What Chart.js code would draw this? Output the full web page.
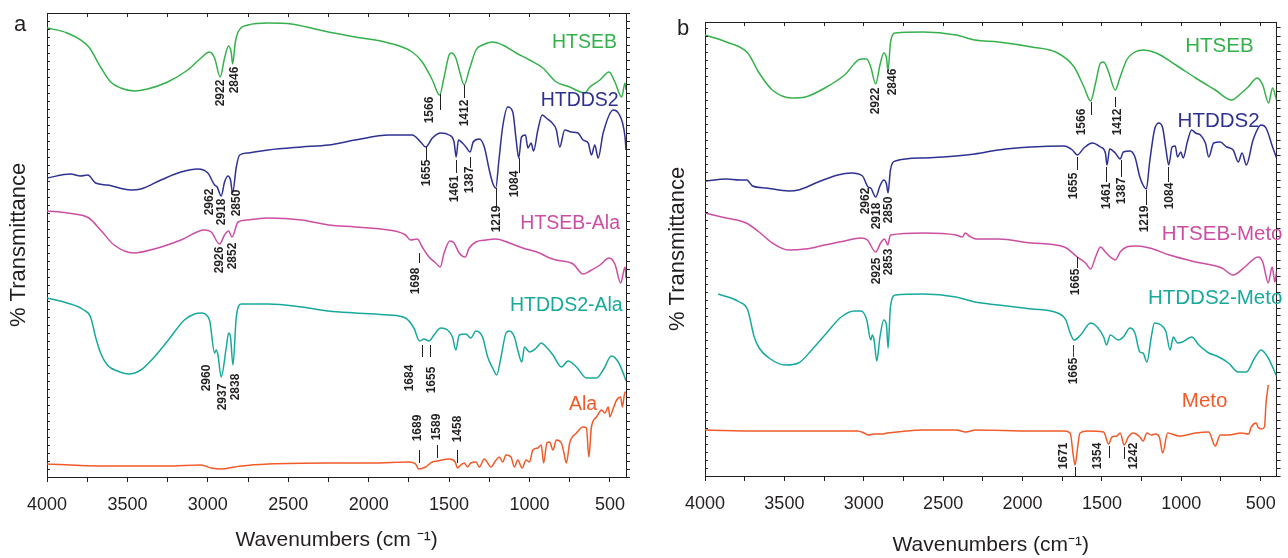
<!DOCTYPE html>
<html>
<head>
<meta charset="utf-8">
<script src="https://cdn.jsdelivr.net/npm/chart.js@4.4.1/dist/chart.umd.min.js"></script>
<style>
  body { margin: 0; background: #fff; width: 1288px; height: 558px; overflow: hidden; position: relative; }
  .panel { position: absolute; top: 0; width: 644px; height: 558px; }
  #wrapA { left: 0; }
  #wrapB { left: 644px; }
  .tag { position: absolute; font: 22px 'Liberation Sans', Arial, sans-serif; line-height: 22px; color: #231f20; }
</style>
</head>
<body>
<div class="panel" id="wrapA"><canvas id="panelA" width="644" height="558"></canvas></div>
<div class="panel" id="wrapB"><canvas id="panelB" width="644" height="558"></canvas></div>
<div class="tag" style="left:14px;top:13px">a</div>
<div class="tag" style="left:677px;top:17px">b</div>
<script>
const FONT = "'Liberation Sans', Arial, sans-serif";
const INK = '#231f20';

// x ticks every 250, labels only on the 500s
const xTicks = [4000, 3750, 3500, 3250, 3000, 2750, 2500, 2250, 2000, 1750, 1500, 1250, 1000, 750, 500];

// ---- panel a : [wavenumber, transmittance (arb. units, offset)] ----
const aHTSEB = [[4000,449],[3875,444],[3740,430],[3667,410],[3604,395],[3542,389],[3459,386],[3375,388],[3250,395],[3125,407],[3042,419],[2990,425],[2958,419],[2923,400],[2896,419],[2871,431],[2854,424],[2846,413],[2829,435],[2812,445],[2750,452],[2625,454],[2479,453],[2333,448],[2250,445],[2083,440],[1875,434],[1729,425],[1667,415],[1604,397],[1559,382],[1531,400],[1500,422],[1485,424],[1458,419],[1437,407],[1406,392],[1375,407],[1333,427],[1292,432],[1229,435],[1167,432],[1083,424],[1000,417],[917,409],[833,395],[750,390],[656,384],[625,390],[562,397],[505,405],[469,395],[427,380],[406,394],[400,387]];
const aHTDDS2 = [[4000,299],[3854,303],[3792,301],[3746,302],[3698,294],[3625,292],[3479,287],[3417,288],[3292,297],[3167,305],[3062,308],[3000,304],[2958,292],[2942,290],[2917,281],[2896,295],[2875,301],[2859,297],[2846,284],[2823,310],[2802,322],[2750,324],[2625,327],[2417,330],[2250,332],[2083,337],[1875,342],[1729,342],[1677,335],[1645,330],[1604,339],[1552,344],[1500,342],[1469,335],[1456,320],[1442,337],[1417,334],[1395,330],[1369,325],[1350,335],[1312,338],[1281,330],[1250,307],[1229,294],[1210,289],[1190,317],[1167,350],[1135,370],[1104,365],[1083,337],[1067,319],[1050,340],[1025,342],[1010,329],[990,334],[975,326],[948,347],[921,362],[896,359],[865,355],[833,347],[812,330],[781,347],[740,345],[698,344],[667,337],[635,334],[615,322],[594,332],[573,319],[542,344],[479,367],[448,364],[406,340],[400,327]];
const aHTSEBAla = [[4000,266],[3875,264],[3740,259],[3667,247],[3583,232],[3459,224],[3333,228],[3167,237],[3021,247],[2979,245],[2927,233],[2896,242],[2871,246],[2850,240],[2812,255],[2750,257],[2625,259],[2417,257],[2250,252],[2083,250],[1875,247],[1771,242],[1740,237],[1698,238],[1667,230],[1625,220],[1583,214],[1555,210],[1531,224],[1495,236],[1469,234],[1437,224],[1400,220],[1375,229],[1333,235],[1271,237],[1208,238],[1125,234],[1042,229],[938,224],[875,219],[833,217],[729,213],[667,203],[625,206],[562,212],[505,219],[469,213],[433,194],[406,210],[400,199]];
const aHTDDS2Ala = [[4000,179],[3875,174],[3771,167],[3729,160],[3698,140],[3667,124],[3625,112],[3563,106],[3490,103],[3417,107],[3333,120],[3250,136],[3146,157],[3083,163],[3042,164],[2990,157],[2958,124],[2948,127],[2937,122],[2917,100],[2885,130],[2871,144],[2859,140],[2844,112],[2823,160],[2792,173],[2625,173],[2417,170],[2250,166],[2083,164],[1875,162],[1771,159],[1719,149],[1683,136],[1656,138],[1625,136],[1594,142],[1552,149],[1510,147],[1479,140],[1458,127],[1437,142],[1396,143],[1365,139],[1333,146],[1292,140],[1260,120],[1229,109],[1204,102],[1177,120],[1146,144],[1125,146],[1094,140],[1073,127],[1048,115],[1031,130],[1000,125],[958,129],[927,134],[896,130],[854,122],[802,110],[760,116],[708,110],[646,99],[583,99],[542,107],[490,121],[448,115],[406,99],[400,96]];
const aAla = [[4000,13],[3667,11],[3250,11],[3042,12],[2979,9],[2917,8],[2833,10],[2792,11],[2625,13],[2250,14],[1979,14],[1750,15],[1708,13],[1689,8],[1646,10],[1604,15],[1573,16],[1500,18],[1462,15],[1448,9],[1427,12],[1406,14],[1385,10],[1365,14],[1333,15],[1312,10],[1281,18],[1260,14],[1240,10],[1212,16],[1188,20],[1167,15],[1146,22],[1115,20],[1094,10],[1073,17],[1046,9],[1021,17],[1000,15],[979,27],[948,29],[927,32],[912,14],[892,34],[875,35],[854,27],[833,37],[802,34],[787,25],[771,14],[750,34],[708,44],[667,50],[646,49],[631,20],[615,50],[583,60],[552,67],[531,64],[510,70],[500,60],[483,67],[458,77],[433,80],[423,70],[406,85],[400,84]];

// ---- panel b ----
const bHTSEB = [[4000,441],[3865,434],[3731,423],[3659,403],[3576,386],[3452,378],[3369,379],[3245,388],[3121,401],[3018,417],[2981,417],[2956,409],[2925,392],[2898,411],[2874,423],[2857,418],[2847,405],[2832,433],[2801,443],[2625,444],[2419,441],[2300,436],[2151,434],[1944,429],[1779,423],[1675,409],[1613,389],[1571,375],[1540,393],[1509,413],[1489,414],[1458,404],[1416,386],[1385,399],[1344,416],[1303,423],[1241,426],[1158,423],[1034,411],[910,398],[786,386],[683,376],[621,383],[579,389],[522,398],[487,391],[450,373],[425,388],[400,376]];
const bHTDDS2 = [[4000,295],[3865,297],[3783,296],[3737,296],[3700,290],[3617,288],[3473,285],[3411,286],[3287,294],[3163,301],[3080,303],[3008,300],[2973,289],[2956,288],[2925,279],[2898,290],[2874,296],[2857,292],[2847,283],[2832,306],[2801,315],[2625,318],[2419,320],[2300,322],[2151,326],[1944,329],[1737,330],[1686,326],[1655,321],[1613,328],[1561,333],[1509,329],[1478,323],[1468,311],[1451,327],[1416,323],[1385,317],[1365,324],[1323,325],[1292,319],[1261,299],[1241,291],[1220,287],[1200,313],[1169,346],[1142,353],[1117,348],[1096,326],[1079,311],[1058,329],[1038,330],[1024,319],[1003,324],[988,318],[962,334],[935,346],[910,343],[879,341],[848,333],[827,319],[796,333],[755,334],[714,329],[673,326],[641,314],[617,323],[590,311],[548,336],[497,351],[466,348],[425,329],[400,318]];
const bHTSEBMeto = [[4000,263],[3865,258],[3741,253],[3659,244],[3576,233],[3473,226],[3369,227],[3245,231],[3121,235],[3018,238],[2977,236],[2925,224],[2894,233],[2869,237],[2849,231],[2832,241],[2625,243],[2419,241],[2378,239],[2361,243],[2336,240],[2295,237],[2151,237],[1944,233],[1737,229],[1655,219],[1603,213],[1571,207],[1540,219],[1509,229],[1478,224],[1447,219],[1416,216],[1385,224],[1344,229],[1282,230],[1199,228],[1075,221],[910,214],[745,208],[673,201],[600,209],[517,219],[487,214],[452,193],[428,209],[410,194],[400,205]];
const bHTDDS2Meto = [[3917,182],[3783,174],[3731,166],[3690,139],[3659,128],[3597,118],[3493,111],[3411,113],[3328,126],[3245,141],[3142,159],[3059,165],[3018,165],[2981,156],[2956,136],[2946,141],[2935,136],[2918,115],[2898,139],[2874,156],[2857,151],[2847,128],[2832,169],[2801,181],[2625,182],[2419,179],[2300,174],[2151,171],[1944,167],[1779,163],[1727,156],[1700,143],[1675,136],[1634,141],[1571,153],[1530,149],[1489,139],[1471,131],[1447,141],[1396,136],[1365,139],[1323,148],[1292,143],[1261,124],[1241,123],[1216,114],[1189,139],[1169,153],[1128,151],[1096,144],[1071,126],[1050,139],[1024,133],[993,134],[935,139],[889,131],[827,123],[776,120],[703,113],[641,104],[590,104],[538,118],[497,126],[456,119],[400,100]];
const bMeto = [[4000,46],[3659,45],[3245,45],[3039,45],[2998,43],[2973,41],[2935,42],[2884,42],[2853,43],[2791,44],[2625,46],[2419,46],[2357,44],[2295,46],[1944,45],[1737,45],[1700,43],[1679,19],[1669,11],[1655,26],[1638,43],[1592,45],[1489,44],[1458,32],[1437,39],[1406,40],[1385,43],[1360,31],[1334,39],[1303,43],[1261,39],[1241,35],[1216,43],[1189,41],[1162,42],[1138,39],[1117,23],[1086,43],[1014,40],[910,43],[827,44],[786,30],[755,41],[703,41],[621,43],[576,42],[559,49],[528,53],[517,49],[497,47],[476,49],[466,73],[452,91]];

const GREEN = '#35b14b', BLUE = '#2e3192', PINK = '#cc4ea3', TEAL = '#18a99d', ORANGE = '#f15a29';

// peak labels [text, wavenumber, y], leader lines [wavenumber, y1, y2, colour]
const peaksA = [['2922',2917,384],['2846',2834,397],['2962',2990,275],['2918',2912,265],['2850',2823,274],['2926',2927,217],['2852',2844,221],
  ['1566',1620,367],['1412',1402,364],['1655',1642,304],['1461',1464,288],['1387',1370,297],['1219',1204,258],['1084',1089,293],['1698',1705,196],
  ['2960',3006,99],['2937',2906,80],['2838',2829,90],['1684',1745,99],['1655',1611,97],['1689',1693,49],['1589',1579,50],['1458',1448,48]];
const leadsA = [[1559,383,367],[1406,392,379],[1642,330,317],[1458,317,304],[1369,320,309],[1209,289,270],[1067,319,304],[1684,224,214],
  [1671,132,120],[1621,132,120],[1688,27,14],[1578,32,19],[1448,27,14]];
const peaksB = [['2922',2927,375],['2846',2817,394],['2962',2989,275],['2918',2918,260],['2850',2842,266],['2925',2918,205],['2853',2845,214],
  ['1566',1627,354],['1412',1401,354],['1655',1675,290],['1461',1469,280],['1387',1375,285],['1219',1230,257],['1084',1076,280],
  ['1665',1665,194],['1665',1675,105],['1671',1742,20],['1354',1525,20],['1242',1298,20]];
const leadsB = [[1571,374,361],[1417,379,369],[1655,319,306],[1472,309,294],[1382,316,299],[1224,286,271],[1082,309,294],[1655,219,208],
  [1679,131,119,BLUE],[1669,9,0],[1458,30,18],[1360,29,17]];

const toXY = arr => arr.map(p => ({x: p[0], y: p[1]}));

const markings = {
  id: 'markings',
  afterDatasetsDraw(chart, args, opts) {
    const ctx = chart.ctx, x = chart.scales.x, y = chart.scales.y;
    const area = chart.chartArea;
    ctx.save();
    ctx.lineWidth = 1;
    ctx.strokeStyle = INK;
    // small inward ticks on the left frame
    y.ticks.forEach(t => {
      const py = Math.round(y.getPixelForValue(t.value)) + 0.5;
      ctx.beginPath();
      ctx.moveTo(area.left, py);
      ctx.lineTo(area.left + 3, py);
      ctx.stroke();
    });
    opts.leads.forEach(([w, v1, v2, col]) => {
      const px = Math.round(x.getPixelForValue(w)) + 0.5;
      ctx.strokeStyle = col || INK;
      ctx.beginPath();
      ctx.moveTo(px, y.getPixelForValue(v1));
      ctx.lineTo(px, y.getPixelForValue(v2));
      ctx.stroke();
    });
    ctx.fillStyle = INK;
    ctx.font = 'bold 12px ' + FONT;
    ctx.textAlign = 'center';
    ctx.textBaseline = 'middle';
    opts.peaks.forEach(([t, w, v]) => {
      ctx.save();
      ctx.translate(x.getPixelForValue(w), y.getPixelForValue(v));
      ctx.rotate(-Math.PI / 2);
      ctx.fillText(t, 0, 0);
      ctx.restore();
    });
    // series names
    ctx.font = opts.nameSize + 'px ' + FONT;
    opts.names.forEach(n => {
      const ds = chart.data.datasets[n.ds];
      ctx.fillStyle = ds.borderColor;
      ctx.textAlign = n.align || 'center';
      ctx.fillText(ds.label, x.getPixelForValue(n.w), y.getPixelForValue(n.v));
    });
    ctx.restore();
  }
};

function makePanel(id, series, cfg) {
  const yMinor = [];
  for (let v = 0; v <= cfg.yMax; v += 8) yMinor.push(v);
  const setX = s => { s.ticks = xTicks.map(v => ({value: v})); };
  const setY = s => { s.ticks = yMinor.map(v => ({value: v})); };
  const frame = {color: INK, width: 1};

  new Chart(document.getElementById(id), {
    type: 'line',
    data: {
      datasets: series.map(s => ({
        label: s.label,
        data: toXY(s.data),
        borderColor: s.color,
        borderWidth: 1.5,
        pointRadius: 0,
        cubicInterpolationMode: 'monotone',
        fill: false
      }))
    },
    options: {
      responsive: false,
      animation: false,
      devicePixelRatio: 1,
      layout: {padding: {top: cfg.top, left: 0, right: 0, bottom: 0}},
      plugins: {
        legend: {display: false},
        tooltip: {enabled: false},
        markings: {peaks: cfg.peaks, leads: cfg.leads, names: cfg.names, nameSize: cfg.nameSize}
      },
      scales: {
        x: {
          type: 'linear', min: 400, max: 4000, reverse: true, position: 'bottom',
          afterBuildTicks: setX,
          afterFit: s => { s.height = cfg.bottom; },
          ticks: {autoSkip: false, maxRotation: 0, padding: 12, color: INK, font: {family: FONT, size: 18},
                  callback: v => (v % 500 === 0 ? String(v) : '')},
          grid: {drawOnChartArea: false, tickLength: 5, color: INK},
          border: frame,
          title: {display: true, text: cfg.xTitle, color: INK, font: {family: FONT, size: 21},
                  padding: {top: 0, bottom: cfg.xTitlePad}}
        },
        xTop: {
          type: 'linear', min: 400, max: 4000, reverse: true, position: 'top',
          afterBuildTicks: setX,
          afterFit: s => { s.height = 0; },
          ticks: {display: false},
          grid: {drawOnChartArea: false, tickLength: -4, color: INK},
          border: frame
        },
        y: {
          min: 0, max: cfg.yMax, position: 'left',
          afterBuildTicks: setY,
          afterFit: s => { s.width = cfg.left; },
          ticks: {display: false},
          grid: {display: false},
          border: frame,
          title: {display: true, text: '% Transmittance', color: INK, font: {family: FONT, size: 22},
                  padding: {top: cfg.yTitlePad, bottom: 0}}
        },
        yRight: {
          min: 0, max: cfg.yMax, position: 'right',
          afterBuildTicks: setY,
          afterFit: s => { s.width = cfg.right; },
          ticks: {display: false},
          grid: {drawOnChartArea: false, tickLength: 4, color: INK},
          border: frame
        }
      }
    },
    plugins: [markings]
  });
}

makePanel('panelA', [
  {label: 'HTSEB', data: aHTSEB, color: GREEN},
  {label: 'HTDDS2', data: aHTDDS2, color: BLUE},
  {label: 'HTSEB-Ala', data: aHTSEBAla, color: PINK},
  {label: 'HTDDS2-Ala', data: aHTDDS2Ala, color: TEAL},
  {label: 'Ala', data: aAla, color: ORANGE}
], {
  yMax: 464, top: 13, bottom: 81, left: 47, right: 18,
  xTitle: 'Wavenumbers (cm \u207B\u00B9)', xTitlePad: 5, yTitlePad: 6,
  peaks: peaksA, leads: leadsA, nameSize: 19.5,
  names: [{ds: 0, w: 658, v: 434}, {ds: 1, w: 688, v: 376}, {ds: 2, w: 747, v: 253}, {ds: 3, w: 771, v: 171}, {ds: 4, w: 667, v: 72}]
});

makePanel('panelB', [
  {label: 'HTSEB', data: bHTSEB, color: GREEN},
  {label: 'HTDDS2', data: bHTDDS2, color: BLUE},
  {label: 'HTSEB-Meto', data: bHTSEBMeto, color: PINK},
  {label: 'HTDDS2-Meto', data: bHTDDS2Meto, color: TEAL},
  {label: 'Meto', data: bMeto, color: ORANGE}
], {
  yMax: 454, top: 22, bottom: 82, left: 61, right: 2,
  xTitle: 'Wavenumbers (cm\u207B\u00B9)', xTitlePad: 0, yTitlePad: 21,
  peaks: peaksB, leads: leadsB, nameSize: 20.5,
  names: [{ds: 0, w: 760, v: 430}, {ds: 1, w: 765, v: 355}, {ds: 2, w: 1123, v: 242, align: 'left'},
          {ds: 3, w: 1210, v: 178, align: 'left'}, {ds: 4, w: 853, v: 75}]
});
</script>
</body>
</html>
